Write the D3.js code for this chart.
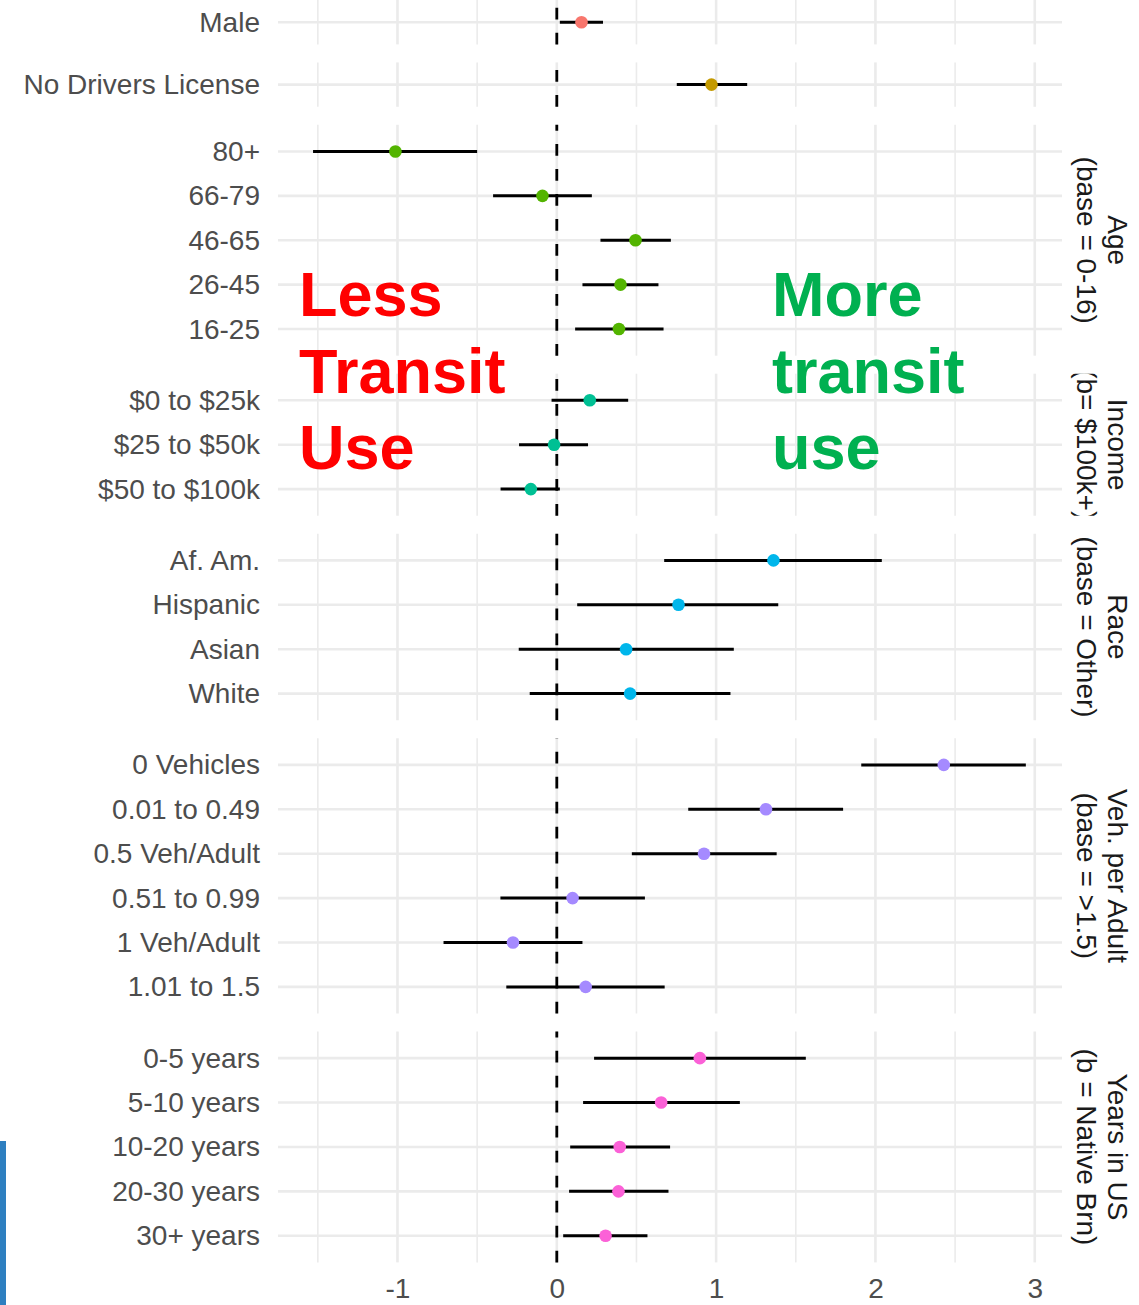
<!DOCTYPE html>
<html>
<head>
<meta charset="utf-8">
<script src="https://cdn.jsdelivr.net/npm/d3@7"></script>
<style>
  html, body { margin: 0; padding: 0; background: #ffffff; }
  svg { display: block; }
  text { font-family: "Liberation Sans", Arial, Helvetica, sans-serif; }
</style>
</head>
<body>
<svg id="chart" width="1139" height="1305"></svg>
<script>
// ---- Data: model coefficients with confidence intervals ----
const terms = [
  "Male",
  "No Drivers License",
  "80+", "66-79", "46-65", "26-45", "16-25",
  "$0 to $25k", "$25 to $50k", "$50 to $100k",
  "Af. Am.", "Hispanic", "Asian", "White",
  "0 Vehicles", "0.01 to 0.49", "0.5 Veh/Adult", "0.51 to 0.99", "1 Veh/Adult", "1.01 to 1.5",
  "0-5 years", "5-10 years", "10-20 years", "20-30 years", "30+ years"
];
const groups = [
  "sex",
  "license",
  "age", "age", "age", "age", "age",
  "income", "income", "income",
  "race", "race", "race", "race",
  "veh", "veh", "veh", "veh", "veh", "veh",
  "years", "years", "years", "years", "years"
];
const estimates = [
  0.155,
  0.971,
  -1.013, -0.090, 0.494, 0.400, 0.390,
  0.207, -0.017, -0.163,
  1.360, 0.764, 0.435, 0.460,
  2.429, 1.313, 0.924, 0.099, -0.275, 0.181,
  0.898, 0.655, 0.395, 0.387, 0.306
];
const lower = [
  0.019,
  0.753,
  -1.530, -0.400, 0.274, 0.161, 0.115,
  -0.033, -0.237, -0.353,
  0.674, 0.128, -0.239, -0.170,
  1.911, 0.825, 0.471, -0.354, -0.711, -0.317,
  0.234, 0.165, 0.084, 0.077, 0.040
];
const upper = [
  0.290,
  1.195,
  -0.500, 0.220, 0.716, 0.638, 0.670,
  0.448, 0.196, 0.019,
  2.040, 1.390, 1.111, 1.090,
  2.944, 1.797, 1.380, 0.553, 0.161, 0.677,
  1.563, 1.149, 0.711, 0.701, 0.569
];

// facet order, colours and strip labels
const groupOrder = ["sex", "license", "age", "income", "race", "veh", "years"];
const groupColors = ["#F8766D", "#C49A00", "#53B400", "#00C094", "#00B6EB", "#A58AFF", "#FB61D7"];
const stripTitle = ["", "", "Age", "Income", "Race", "Veh. per Adult", "Years in US"];
const stripBase  = ["", "", "(base = 0-16)", "(b= $100k+)", "(base = Other)", "(base = >1.5)", "(b = Native Brn)"];

const xTickValues = [-1, 0, 1, 2, 3];
const xTickLabels = ["-1", "0", "1", "2", "3"];
const xMajorGrid = [-1, 0, 1, 2, 3];
const xMinorGrid = [-1.5, -0.5, 0.5, 1.5, 2.5];

// ---- Layout ----
const svg = d3.select("#chart");
const panelLeft = 278, panelRight = 1062;
const rowStep = 44.4, panelGap = 18;
const gridColor = "#EBEBEB";

const x = d3.scaleLinear().domain([-1.75, 3.171]).range([panelLeft, panelRight]);

const rows = terms.map((t, i) => ({
  term: t, group: groups[i], est: estimates[i], lo: lower[i], hi: upper[i]
}));

// build panels stacked vertically, height proportional to number of rows
let cursor = 0;
const panels = groupOrder.map((g, gi) => {
  const items = rows.filter(r => r.group === g);
  const n = items.length;
  const h = n === 1 ? rowStep : (n + 0.2) * rowStep;
  const top = cursor;
  cursor += h + panelGap;
  const y = d3.scalePoint().domain(items.map(d => d.term)).range([top, top + h]).padding(0.6);
  return { g, gi, items, top, h, y };
});

const defs = svg.append("defs");

panels.forEach(p => {
  const gp = svg.append("g").attr("class", "panel");
  const bottom = p.top + p.h;

  // minor vertical grid
  gp.selectAll("line.minor").data(xMinorGrid).join("line")
    .attr("x1", d => x(d)).attr("x2", d => x(d))
    .attr("y1", p.top).attr("y2", bottom)
    .attr("stroke", gridColor).attr("stroke-width", 1.6);
  // major vertical grid
  gp.selectAll("line.major").data(xMajorGrid).join("line")
    .attr("x1", d => x(d)).attr("x2", d => x(d))
    .attr("y1", p.top).attr("y2", bottom)
    .attr("stroke", gridColor).attr("stroke-width", 2.6);
  // horizontal grid per term
  gp.selectAll("line.hgrid").data(p.items).join("line")
    .attr("x1", panelLeft).attr("x2", panelRight)
    .attr("y1", d => p.y(d.term)).attr("y2", d => p.y(d.term))
    .attr("stroke", gridColor).attr("stroke-width", 2.6);

  // reference line at zero, dash pattern running from the bottom up
  gp.append("line")
    .attr("x1", x(0)).attr("x2", x(0))
    .attr("y1", bottom).attr("y2", p.top)
    .attr("stroke", "#000").attr("stroke-width", 2.8)
    .attr("stroke-dasharray", "11.7,13.3");

  // confidence intervals
  gp.selectAll("line.ci").data(p.items).join("line")
    .attr("x1", d => x(d.lo)).attr("x2", d => x(d.hi))
    .attr("y1", d => p.y(d.term)).attr("y2", d => p.y(d.term))
    .attr("stroke", "#000").attr("stroke-width", 3);

  // point estimates
  gp.selectAll("circle").data(p.items).join("circle")
    .attr("cx", d => x(d.est)).attr("cy", d => p.y(d.term))
    .attr("r", 6.3).attr("fill", groupColors[p.gi]);

  // category labels
  const yAxis = svg.append("g")
    .attr("transform", `translate(${panelLeft},0)`)
    .call(d3.axisLeft(p.y).tickSize(0).tickPadding(18));
  yAxis.select(".domain").remove();
  yAxis.selectAll("text")
    .attr("fill", "#4D4D4D").style("font-size", "28px")
    .style("font-family", "'Liberation Sans', Arial, sans-serif");

  // strip labels, clipped to the panel height
  if (stripTitle[p.gi]) {
    const cid = "strip-clip-" + p.gi;
    defs.append("clipPath").attr("id", cid)
      .append("rect").attr("x", panelRight + 2).attr("y", p.top)
      .attr("width", 1139 - panelRight - 2).attr("height", p.h);
    const gs = svg.append("g").attr("clip-path", `url(#${cid})`);
    const cy = p.top + p.h / 2;
    [[stripTitle[p.gi], 1117], [stripBase[p.gi], 1086]].forEach(([txt, cx]) => {
      gs.append("text")
        .attr("transform", `translate(${cx},${cy}) rotate(90)`)
        .attr("text-anchor", "middle")
        .attr("dominant-baseline", "central")
        .attr("fill", "#1A1A1A")
        .style("font-size", "28px")
        .text(txt);
    });
  }
});

// x axis
const lastBottom = panels[panels.length - 1].top + panels[panels.length - 1].h;
const xAxis = svg.append("g")
  .attr("transform", `translate(0,${lastBottom})`)
  .call(d3.axisBottom(x).tickValues(xTickValues)
    .tickFormat((d, i) => xTickLabels[i]).tickSize(0).tickPadding(16));
xAxis.select(".domain").remove();
xAxis.selectAll("text")
  .attr("fill", "#4D4D4D").style("font-size", "28px")
  .style("font-family", "'Liberation Sans', Arial, sans-serif");

// direction annotations
const lessLines = ["Less", "Transit", "Use"];
const moreLines = ["More", "transit", "use"];
const annBaselines = [316, 393, 469];
svg.append("g").selectAll("text").data(lessLines).join("text")
  .attr("x", 299).attr("y", (d, i) => annBaselines[i])
  .attr("fill", "#FF0000").style("font-size", "63px").style("font-weight", "bold")
  .text(d => d);
svg.append("g").selectAll("text").data(moreLines).join("text")
  .attr("x", 772).attr("y", (d, i) => annBaselines[i])
  .attr("fill", "#00B050").style("font-size", "63px").style("font-weight", "bold")
  .text(d => d);

// slide accent bar at the lower left edge
svg.append("rect").attr("x", 0).attr("y", 1141).attr("width", 6).attr("height", 164)
  .attr("fill", "#2E7FC0");
</script>
</body>
</html>
